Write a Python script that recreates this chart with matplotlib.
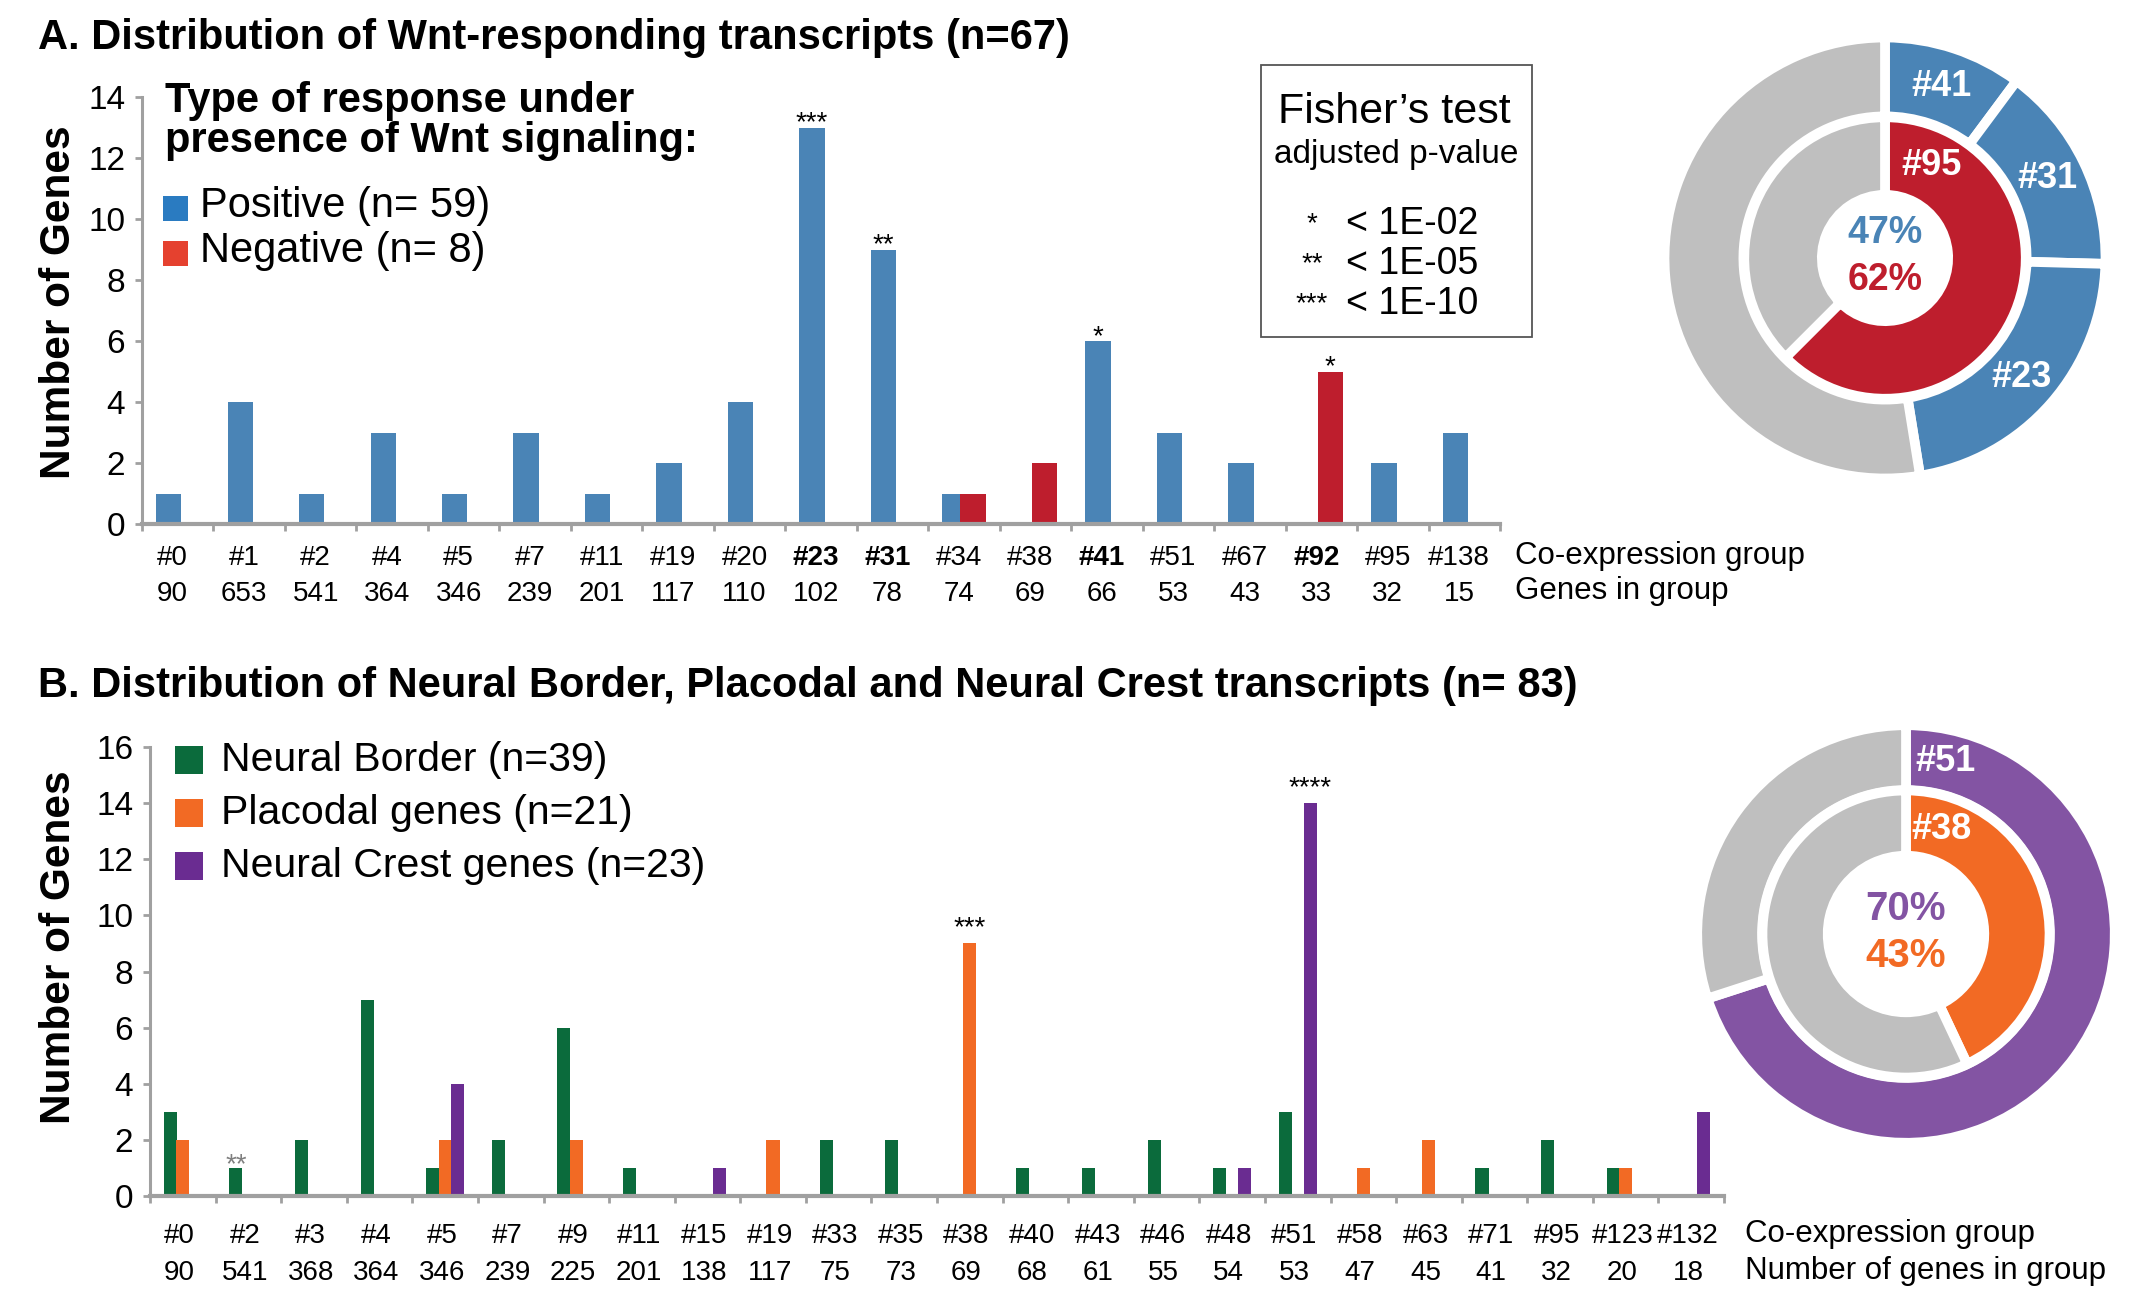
import matplotlib
matplotlib.use('Agg')
import matplotlib.pyplot as plt
import matplotlib.transforms as mtransforms
from matplotlib import font_manager
from matplotlib.patches import Rectangle
import numpy as np

# ---- data ----
groups_a = ['#0', '#1', '#2', '#4', '#5', '#7', '#11', '#19', '#20', '#23', '#31',
            '#34', '#38', '#41', '#51', '#67', '#92', '#95', '#138']
sizes_a = [90, 653, 541, 364, 346, 239, 201, 117, 110, 102, 78, 74, 69, 66, 53, 43, 33, 32, 15]
positive = [1, 4, 1, 3, 1, 3, 1, 2, 4, 13, 9, 1, 0, 6, 3, 2, 0, 2, 3]
negative = [0, 0, 0, 0, 0, 0, 0, 0, 0, 0, 0, 1, 2, 0, 0, 0, 5, 0, 0]
bold_a = ['#23', '#31', '#41', '#92']
stars_a = {'#23': '***', '#31': '**', '#41': '*', '#92': '*'}

groups_b = ['#0', '#2', '#3', '#4', '#5', '#7', '#9', '#11', '#15', '#19', '#33', '#35',
            '#38', '#40', '#43', '#46', '#48', '#51', '#58', '#63', '#71', '#95', '#123', '#132']
sizes_b = [90, 541, 368, 364, 346, 239, 225, 201, 138, 117, 75, 73, 69, 68, 61, 55, 54,
           53, 47, 45, 41, 32, 20, 18]
border = [3, 1, 2, 7, 1, 2, 6, 1, 0, 0, 2, 2, 0, 1, 1, 2, 1, 3, 0, 0, 1, 2, 1, 0]
placodal = [2, 0, 0, 0, 2, 0, 2, 0, 0, 2, 0, 0, 9, 0, 0, 0, 0, 0, 1, 2, 0, 0, 1, 0]
crest = [0, 0, 0, 0, 4, 0, 0, 0, 1, 0, 0, 0, 0, 0, 0, 0, 1, 14, 0, 0, 0, 0, 0, 3]
stars_b = {'#2': '**', '#38': '***', '#51': '****'}

# donuts (counts / percentages)
donut_a_outer = [6, 9, 13, 31]      # #41, #31, #23, rest of positives
donut_a_outer_lab = ['#41', '#31', '#23', '']
donut_a_inner = [5, 3]              # red group, rest of negatives
donut_b_outer = [70, 30]
donut_b_inner = [43, 57]

BLUE = '#4a84b6'
RED = '#be1e2d'
GREEN = '#0b6b3c'
ORANGE = '#f26a24'
PURPLE = '#6a2c91'
PURPLE2 = '#8354a3'
GRAY = '#bfbfbf'
AXC = '#a0a0a0'

installed = {f.name for f in font_manager.fontManager.ttflist}
plt.rcParams['font.family'] = ['Liberation Sans', 'DejaVu Sans']
if 'Liberation Sans Narrow' in installed:
    tick_font, tick_size = ['Liberation Sans Narrow', 'Liberation Sans'], 23
else:
    tick_font, tick_size = ['Liberation Sans', 'DejaVu Sans'], 20

W, H = 2141, 1294
fig = plt.figure(figsize=(W / 100, H / 100), dpi=100)


def box(l, t, r, b):
    return [l / W, 1 - b / H, (r - l) / W, (b - t) / H]


def ftext(x, y, s, **kw):
    return fig.text(x / W, 1 - y / H, s, **kw)


def square(x, y, size, color):
    fig.add_artist(Rectangle((x / W, 1 - (y + size) / H), size / W, size / H,
                             transform=fig.transFigure, color=color, lw=0))


def style_axis(ax, n, top):
    ax.set_xlim(-0.5, n - 0.5)
    ax.set_ylim(0, top)
    ax.set_yticks(range(0, top + 1, 2))
    ax.set_xticks(np.arange(-0.5, n, 1))
    ax.set_xticklabels([])
    for s in ['top', 'right']:
        ax.spines[s].set_visible(False)
    ax.spines['left'].set_color(AXC)
    ax.spines['left'].set_linewidth(2.2)
    ax.spines['bottom'].set_color(AXC)
    ax.spines['bottom'].set_linewidth(3)
    ax.tick_params(axis='x', direction='out', length=5, width=2, color=AXC)
    ax.tick_params(axis='y', direction='out', length=5, width=2, color=AXC,
                   labelsize=24, pad=7)


def tick_rows(ax, groups, sizes, y1, y2, shift, bold=()):
    tr = mtransforms.blended_transform_factory(ax.transData, fig.transFigure)
    for i, (g, s) in enumerate(zip(groups, sizes)):
        ax.text(i + shift, 1 - y1 / H, g, transform=tr, ha='center', va='baseline',
                family=tick_font, size=tick_size,
                fontweight='bold' if g in bold else 'normal')
        ax.text(i + shift, 1 - y2 / H, str(s), transform=tr, ha='center', va='baseline',
                family=tick_font, size=tick_size)


# ---------------- panel A ----------------
axA = fig.add_axes(box(142, 97, 1500, 524))
xa = np.arange(len(groups_a))
axA.bar(xa - 0.125, positive, 0.355, color=BLUE)
axA.bar(xa + 0.125, negative, 0.355, color=RED)
style_axis(axA, len(groups_a), 14)
tick_rows(axA, groups_a, sizes_a, 565, 601, -0.07, bold_a)
for g, st in stars_a.items():
    i = groups_a.index(g)
    if positive[i] >= negative[i]:
        xs, v = i - 0.125, positive[i]
    else:
        xs, v = i + 0.125, negative[i]
    axA.annotate(st, (xs, v), xytext=(0, -2), textcoords='offset points',
                 ha='center', va='baseline', size=20)

ftext(38, 49, 'A. Distribution of Wnt-responding transcripts (n=67)',
      size=30, fontweight='bold', va='baseline')
ftext(59, 302, 'Number of Genes', rotation=90, ha='center', va='center',
      size=30.5, fontweight='bold')
ftext(165, 112, 'Type of response under', size=30, fontweight='bold', va='baseline')
ftext(165, 152, 'presence of Wnt signaling:', size=30, fontweight='bold', va='baseline')
square(163, 196, 25, '#2a7bc1')
square(163, 241, 25, '#e5412f')
ftext(200, 217, 'Positive (n= 59)', size=30, va='baseline')
ftext(200, 262, 'Negative (n= 8)', size=30, va='baseline')
ftext(1515, 564, 'Co-expression group', size=22.5, va='baseline')
ftext(1515, 599, 'Genes in group', size=22.5, va='baseline')

# Fisher box
fig.add_artist(Rectangle((1261 / W, 1 - 337 / H), 271 / W, 272 / H,
                         transform=fig.transFigure, fill=False,
                         edgecolor='#555555', lw=1.3))
ftext(1394, 123, 'Fisher\u2019s test', size=31, ha='center', va='baseline')
ftext(1396, 163, 'adjusted p-value', size=24, ha='center', va='baseline')
for (st, lab), yb in zip([('*', '< 1E-02'), ('**', '< 1E-05'), ('***', '< 1E-10')],
                         [234, 274, 314]):
    ftext(1312, yb - 3, st, size=20, ha='center', va='baseline')
    ftext(1346, yb, lab, size=27, va='baseline')

# donut A
daxA = fig.add_axes(box(1885 - 222, 258 - 222, 1885 + 222, 258 + 222))
daxA.pie(donut_a_outer, radius=1.023, startangle=90, counterclock=False,
         colors=[BLUE, BLUE, BLUE, GRAY],
         wedgeprops=dict(width=0.366, edgecolor='white', linewidth=7))
daxA.pie(donut_a_inner, radius=0.653, startangle=90, counterclock=False,
         colors=[RED, GRAY],
         wedgeprops=dict(width=0.36, edgecolor='white', linewidth=7))
cum = np.cumsum([0] + donut_a_outer)
tot = sum(donut_a_outer)
for k, lab in enumerate(donut_a_outer_lab):
    if not lab:
        continue
    ang = np.deg2rad(90 - 360 * (cum[k] + cum[k + 1]) / 2 / tot)
    daxA.text(0.84 * np.cos(ang), 0.84 * np.sin(ang), lab, color='white',
              ha='center', va='center', size=26, fontweight='bold')
ang = np.deg2rad(63)
daxA.text(0.48 * np.cos(ang), 0.48 * np.sin(ang), '#95', color='white',
          ha='center', va='center', size=26, fontweight='bold')
pa = round(100 * sum(donut_a_outer[:3]) / tot)
pr = round(100 * donut_a_inner[0] / sum(donut_a_inner))
daxA.text(0, 0.115, f'{pa}%', color=BLUE, ha='center', va='center', size=27, fontweight='bold')
daxA.text(0, -0.10, f'{pr}%', color=RED, ha='center', va='center', size=27, fontweight='bold')
daxA.set_xlim(-1.03, 1.03)
daxA.set_ylim(-1.03, 1.03)
daxA.axis('off')

# ---------------- panel B ----------------
axB = fig.add_axes(box(150, 747, 1724, 1196))
xb = np.arange(len(groups_b))
wb = 0.2
axB.bar(xb - 0.19, border, wb, color=GREEN)
axB.bar(xb, placodal, wb, color=ORANGE)
axB.bar(xb + 0.19, crest, wb, color=PURPLE)
style_axis(axB, len(groups_b), 16)
tick_rows(axB, groups_b, sizes_b, 1243, 1280, -0.05)
for g, st in stars_b.items():
    i = groups_b.index(g)
    vals = [border[i], placodal[i], crest[i]]
    k = int(np.argmax(vals))
    lift = -3 if g == '#2' else 6
    axB.annotate(st, (i + (k - 1) * 0.19, vals[k]), xytext=(0, lift),
                 textcoords='offset points', ha='center', va='baseline', size=20,
                 color='#7f7f7f' if g == '#2' else 'black')

ftext(38, 697, 'B. Distribution of Neural Border, Placodal and Neural Crest transcripts (n= 83)',
      size=30, fontweight='bold', va='baseline')
ftext(59, 947, 'Number of Genes', rotation=90, ha='center', va='center',
      size=30.5, fontweight='bold')
for (lab, col), yb in zip([('Neural Border (n=39)', GREEN),
                           ('Placodal genes (n=21)', ORANGE),
                           ('Neural Crest genes (n=23)', PURPLE)], [771, 824, 877]):
    square(175, yb - 25, 28, col)
    ftext(221, yb, lab, size=29.5, va='baseline')
ftext(1745, 1242, 'Co-expression group', size=22.5, va='baseline')
ftext(1745, 1279, 'Number of genes in group', size=22.5, va='baseline')

# donut B
daxB = fig.add_axes(box(1906 - 210, 934 - 210, 1906 + 210, 934 + 210))
daxB.pie(donut_b_outer, radius=1.024, startangle=90, counterclock=False,
         colors=[PURPLE2, GRAY],
         wedgeprops=dict(width=0.318, edgecolor='white', linewidth=7))
daxB.pie(donut_b_inner, radius=0.704, startangle=90, counterclock=False,
         colors=[ORANGE, GRAY],
         wedgeprops=dict(width=0.32, edgecolor='white', linewidth=7))
ang = np.deg2rad(77)
daxB.text(0.87 * np.cos(ang), 0.87 * np.sin(ang), '#51', color='white',
          ha='center', va='center', size=26, fontweight='bold')
ang = np.deg2rad(71)
daxB.text(0.54 * np.cos(ang), 0.54 * np.sin(ang), '#38', color='white',
          ha='center', va='center', size=26, fontweight='bold')
daxB.text(0, 0.125, f'{donut_b_outer[0]}%', color=PURPLE2, ha='center', va='center',
          size=29, fontweight='bold')
daxB.text(0, -0.11, f'{donut_b_inner[0]}%', color=ORANGE, ha='center', va='center',
          size=29, fontweight='bold')
daxB.set_xlim(-1.03, 1.03)
daxB.set_ylim(-1.03, 1.03)
daxB.axis('off')

fig.savefig('out.png', dpi=100)
